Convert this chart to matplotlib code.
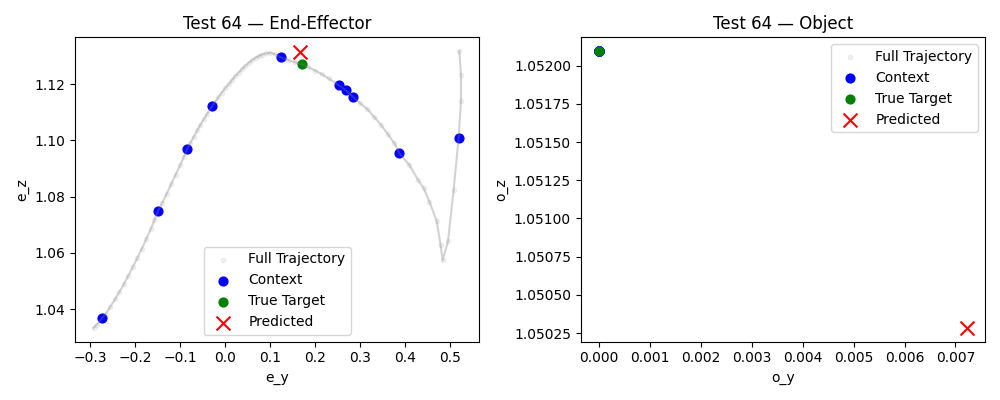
import numpy as np
import matplotlib
matplotlib.use("Agg")
import matplotlib.pyplot as plt

# end-effector trajectory (e_y, e_z)
ee_y = [-0.2925, -0.285, -0.2728, -0.265, -0.255, -0.245, -0.235, -0.225, -0.215,
        -0.205, -0.195, -0.185, -0.175, -0.165, -0.157, -0.1486, -0.14, -0.13,
        -0.12, -0.11, -0.1, -0.092, -0.0843, -0.077, -0.07, -0.062, -0.055,
        -0.047, -0.04, -0.0288, -0.022, -0.015, -0.008, 0.0, 0.008, 0.015,
        0.022, 0.03, 0.038, 0.045, 0.052, 0.06, 0.068, 0.075, 0.082, 0.09,
        0.1, 0.11, 0.1242, 0.14, 0.155, 0.1708, 0.185, 0.2, 0.215, 0.23,
        0.2528, 0.2677, 0.2839, 0.2987, 0.3158, 0.332, 0.3469, 0.3615,
        0.3764, 0.3874, 0.4096, 0.4289, 0.4413, 0.454, 0.4702, 0.479, 0.4835,
        0.4955, 0.5079, 0.519, 0.5243, 0.5243, 0.5205]
ee_z = [1.0333, 1.0345, 1.0368, 1.0384, 1.0409, 1.0434, 1.0461, 1.0489, 1.0519,
        1.0550, 1.0582, 1.0615, 1.0650, 1.0685, 1.0717, 1.0750, 1.0777, 1.0810,
        1.0844, 1.0878, 1.0912, 1.0940, 1.0968, 1.0991, 1.1012, 1.1035, 1.1055,
        1.1076, 1.1094, 1.1121, 1.1137, 1.1153, 1.1169, 1.1185, 1.1200, 1.1214,
        1.1228, 1.1241, 1.1254, 1.1265, 1.1275, 1.1285, 1.1294, 1.1300, 1.1305,
        1.1309, 1.1311, 1.1307, 1.1295, 1.1285, 1.1278, 1.1270, 1.1260, 1.1248,
        1.1235, 1.1220, 1.1196, 1.1179, 1.1155, 1.1134, 1.1111, 1.1082, 1.1054,
        1.1022, 1.0989, 1.0954, 1.0912, 1.0859, 1.0830, 1.0782, 1.0713, 1.0626,
        1.0573, 1.0642, 1.0824, 1.1007, 1.1140, 1.1232, 1.1317]

ctx_ey = [-0.2728, -0.1486, -0.0843, -0.0288, 0.1242, 0.2528, 0.2677, 0.2839, 0.3874, 0.519]
ctx_ez = [1.0368, 1.0750, 1.0968, 1.1121, 1.1295, 1.1196, 1.1179, 1.1155, 1.0954, 1.1007]
true_ey, true_ez = 0.1708, 1.1270
pred_ey, pred_ez = 0.1663, 1.1313

# object trajectory (o_y, o_z) - object stays put
obj_y = [0.0] * 20
obj_z = [1.052095] * 20
ctx_oy = [0.0] * 10
ctx_oz = [1.052095] * 10
true_oy, true_oz = 0.0, 1.052095
pred_oy, pred_oz = 0.00722, 1.050284

test_id = 64


def draw(ax, y, z, cy, cz, ty, tz, py, pz, title, xl, yl, loc):
    ax.plot(y, z, color="gray", alpha=0.35)
    ax.scatter(y, z, color="gray", alpha=0.1, s=10, label="Full Trajectory")
    ax.scatter(cy, cz, color="blue", s=40, label="Context")
    ax.scatter(ty, tz, color="green", s=40, label="True Target")
    ax.scatter(py, pz, color="red", marker="x", s=100, label="Predicted")
    ax.set_title(title)
    ax.set_xlabel(xl)
    ax.set_ylabel(yl)
    ax.legend(loc=loc)


fig, axes = plt.subplots(1, 2, figsize=(10, 4), dpi=100)
draw(axes[0], ee_y, ee_z, ctx_ey, ctx_ez, true_ey, true_ez, pred_ey, pred_ez,
     f"Test {test_id} \u2014 End-Effector", "e_y", "e_z", "lower center")
draw(axes[1], obj_y, obj_z, ctx_oy, ctx_oz, true_oy, true_oz, pred_oy, pred_oz,
     f"Test {test_id} \u2014 Object", "o_y", "o_z", "upper right")
axes[1].ticklabel_format(useOffset=False)

plt.tight_layout()
plt.savefig("out.png")
